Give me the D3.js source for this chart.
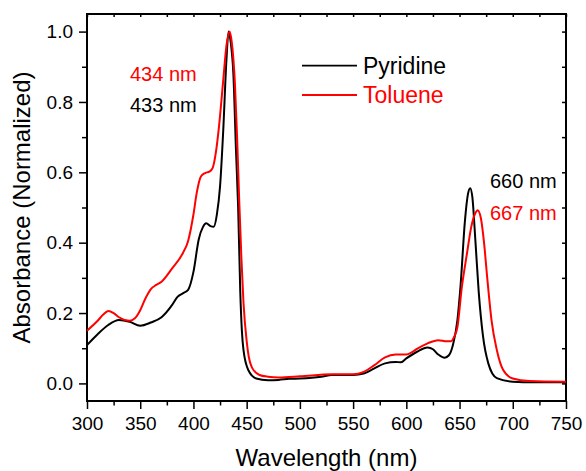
<!DOCTYPE html>
<meta charset="utf-8">
<script src="https://d3js.org/d3.v7.min.js"></script>
<style>
  body { margin: 0; background: #fff; }
  text { font-family: "Liberation Sans", Arial, sans-serif; }
</style>
<div id="chart"></div>
<script>

// Pyridine spectrum (black)
var pyWl  = [300, 310, 320, 330, 340, 350, 360, 370, 380, 385, 390, 395, 400, 405, 409, 412, 416, 419, 422, 425, 428, 431, 433, 435, 437.5, 440, 442, 444, 445.5, 447, 451.5, 459, 470, 480, 490, 500, 520, 530, 550, 560, 570, 580, 590, 595, 600, 610, 620, 625, 630, 636, 640, 644, 648, 651, 655, 658, 660, 662, 665, 668, 672, 677, 685, 700, 720, 750];
var pyAbs = [0.109, 0.14, 0.166, 0.18, 0.175, 0.164, 0.173, 0.188, 0.223, 0.246, 0.256, 0.266, 0.317, 0.41, 0.445, 0.455, 0.447, 0.445, 0.48, 0.56, 0.72, 0.92, 1.0, 0.97, 0.88, 0.66, 0.5, 0.26, 0.15, 0.095, 0.038, 0.014, 0.009, 0.01, 0.013, 0.014, 0.019, 0.024, 0.024, 0.028, 0.043, 0.057, 0.061, 0.06, 0.071, 0.09, 0.102, 0.097, 0.082, 0.073, 0.08, 0.112, 0.18, 0.28, 0.46, 0.54, 0.555, 0.53, 0.4, 0.26, 0.135, 0.057, 0.015, 0.005, 0.003, 0.003];

// Toluene spectrum (red)
var tolWl  = [300, 310, 315, 320, 325, 330, 340, 345, 350, 355, 360, 365, 370, 380, 390, 395, 400, 403, 407, 411, 415, 418, 421, 424, 428, 431, 434, 436, 439, 441, 443, 445, 447, 450, 452, 455, 462, 470, 480, 500, 530, 550, 560, 570, 580, 590, 600, 605, 610, 620, 630, 638, 642, 645, 648, 652, 657, 661, 665, 667, 670, 673, 676, 680, 685, 691, 700, 716, 750];
var tolAbs = [0.15, 0.178, 0.195, 0.206, 0.2, 0.188, 0.178, 0.185, 0.208, 0.242, 0.268, 0.28, 0.289, 0.327, 0.37, 0.405, 0.48, 0.54, 0.588, 0.598, 0.602, 0.612, 0.655, 0.73, 0.862, 0.96, 1.0, 0.97, 0.85, 0.7, 0.52, 0.36, 0.23, 0.12, 0.075, 0.045, 0.024, 0.019, 0.017, 0.02, 0.026, 0.026, 0.033, 0.052, 0.074, 0.082, 0.082, 0.088, 0.098, 0.114, 0.123, 0.12, 0.12, 0.133, 0.16, 0.27, 0.37, 0.445, 0.485, 0.492, 0.47, 0.4, 0.3, 0.18, 0.095, 0.038, 0.014, 0.007, 0.005];

var xTicks = [300, 350, 400, 450, 500, 550, 600, 650, 700, 750];
var yTicks = [0.0, 0.2, 0.4, 0.6, 0.8, 1.0];

var seriesNames = ["Pyridine", "Toluene"];
var seriesColors = ["#000000", "#ff0000"];

// peak labels
var peakLabels = [
  {text: "434 nm", color: "#ff0000", x: 130, y: 80.7},
  {text: "433 nm", color: "#000000", x: 130, y: 111.7},
  {text: "660 nm", color: "#000000", x: 490, y: 188.3},
  {text: "667 nm", color: "#ff0000", x: 490, y: 220}
];

var W = 586, H = 471;
var margin = {top: 14, right: 20, bottom: 70, left: 87},
    width = W - margin.left - margin.right,
    height = H - margin.top - margin.bottom;

var svg = d3.select("#chart")
  .append("svg")
    .attr("width", W)
    .attr("height", H);

var g = svg.append("g")
    .attr("transform", "translate(" + margin.left + "," + margin.top + ")");

var x = d3.scaleLinear().domain([300, 750]).range([0, width]);
var y = d3.scaleLinear().domain([-0.05, 1.05]).range([height, 0]);

// minor ticks
g.append("g")
  .attr("transform", "translate(0," + height + ")")
  .call(d3.axisBottom(x).tickValues(d3.range(325, 750, 50)).tickSize(4.5).tickFormat(""));
g.append("g")
  .call(d3.axisLeft(y).tickValues(d3.range(0.1, 1.01, 0.2)).tickSize(5).tickFormat(""));
// top & right inner ticks
g.append("g")
  .call(d3.axisBottom(x).tickValues(d3.range(300, 751, 25)).tickSize(3).tickFormat(""));
g.append("g")
  .attr("transform", "translate(" + width + ",0)")
  .call(d3.axisLeft(y).tickValues(d3.range(0, 1.01, 0.1)).tickSize(4).tickFormat(""));

// major axes
g.append("g")
  .attr("transform", "translate(0," + height + ")")
  .call(d3.axisBottom(x).tickValues(xTicks).tickSize(8).tickPadding(8));
g.append("g")
  .call(d3.axisLeft(y).tickValues(yTicks).tickSize(8).tickPadding(6).tickFormat(d3.format(".1f")));

g.selectAll(".domain").remove();
g.selectAll(".tick line").attr("stroke", "#000").attr("stroke-width", 1.5);
g.selectAll(".tick text").attr("font-size", 19).attr("fill", "#000")
  .style("font-family", '"Liberation Sans", Arial, sans-serif');

// frame
g.append("rect")
  .attr("width", width)
  .attr("height", height)
  .attr("fill", "none")
  .attr("stroke", "#000")
  .attr("stroke-width", 2);

var line = d3.line()
  .x(function(d) { return x(d[0]); })
  .y(function(d) { return y(d[1]); })
  .curve(d3.curveMonotoneX);

var pyData = d3.zip(pyWl, pyAbs);
var tolData = d3.zip(tolWl, tolAbs);

g.append("path")
  .datum(pyData)
  .attr("fill", "none")
  .attr("stroke", seriesColors[0])
  .attr("stroke-width", 2)
  .attr("d", line);

g.append("path")
  .datum(tolData)
  .attr("fill", "none")
  .attr("stroke", seriesColors[1])
  .attr("stroke-width", 2)
  .attr("d", line);

// legend
var legend = svg.append("g");
var legY = [65.7, 95];
seriesNames.forEach(function(name, i) {
  legend.append("line")
    .attr("x1", 302).attr("x2", 357)
    .attr("y1", legY[i]).attr("y2", legY[i])
    .attr("stroke", seriesColors[i])
    .attr("stroke-width", 1.8);
  legend.append("text")
    .attr("x", 363)
    .attr("y", legY[i] + 8.3)
    .attr("font-size", 23)
    .attr("fill", seriesColors[i])
    .text(name);
});

// peak annotations
svg.selectAll(".peak")
  .data(peakLabels)
  .enter()
  .append("text")
    .attr("class", "peak")
    .attr("x", function(d) { return d.x; })
    .attr("y", function(d) { return d.y; })
    .attr("font-size", 20)
    .attr("fill", function(d) { return d.color; })
    .text(function(d) { return d.text; });

// axis titles
svg.append("text")
  .attr("x", margin.left + width / 2)
  .attr("y", 466)
  .attr("text-anchor", "middle")
  .attr("font-size", 24)
  .text("Wavelength (nm)");

svg.append("text")
  .attr("transform", "translate(30," + (margin.top + height / 2) + ") rotate(-90)")
  .attr("text-anchor", "middle")
  .attr("font-size", 24)
  .text("Absorbance (Normalized)");

</script>
